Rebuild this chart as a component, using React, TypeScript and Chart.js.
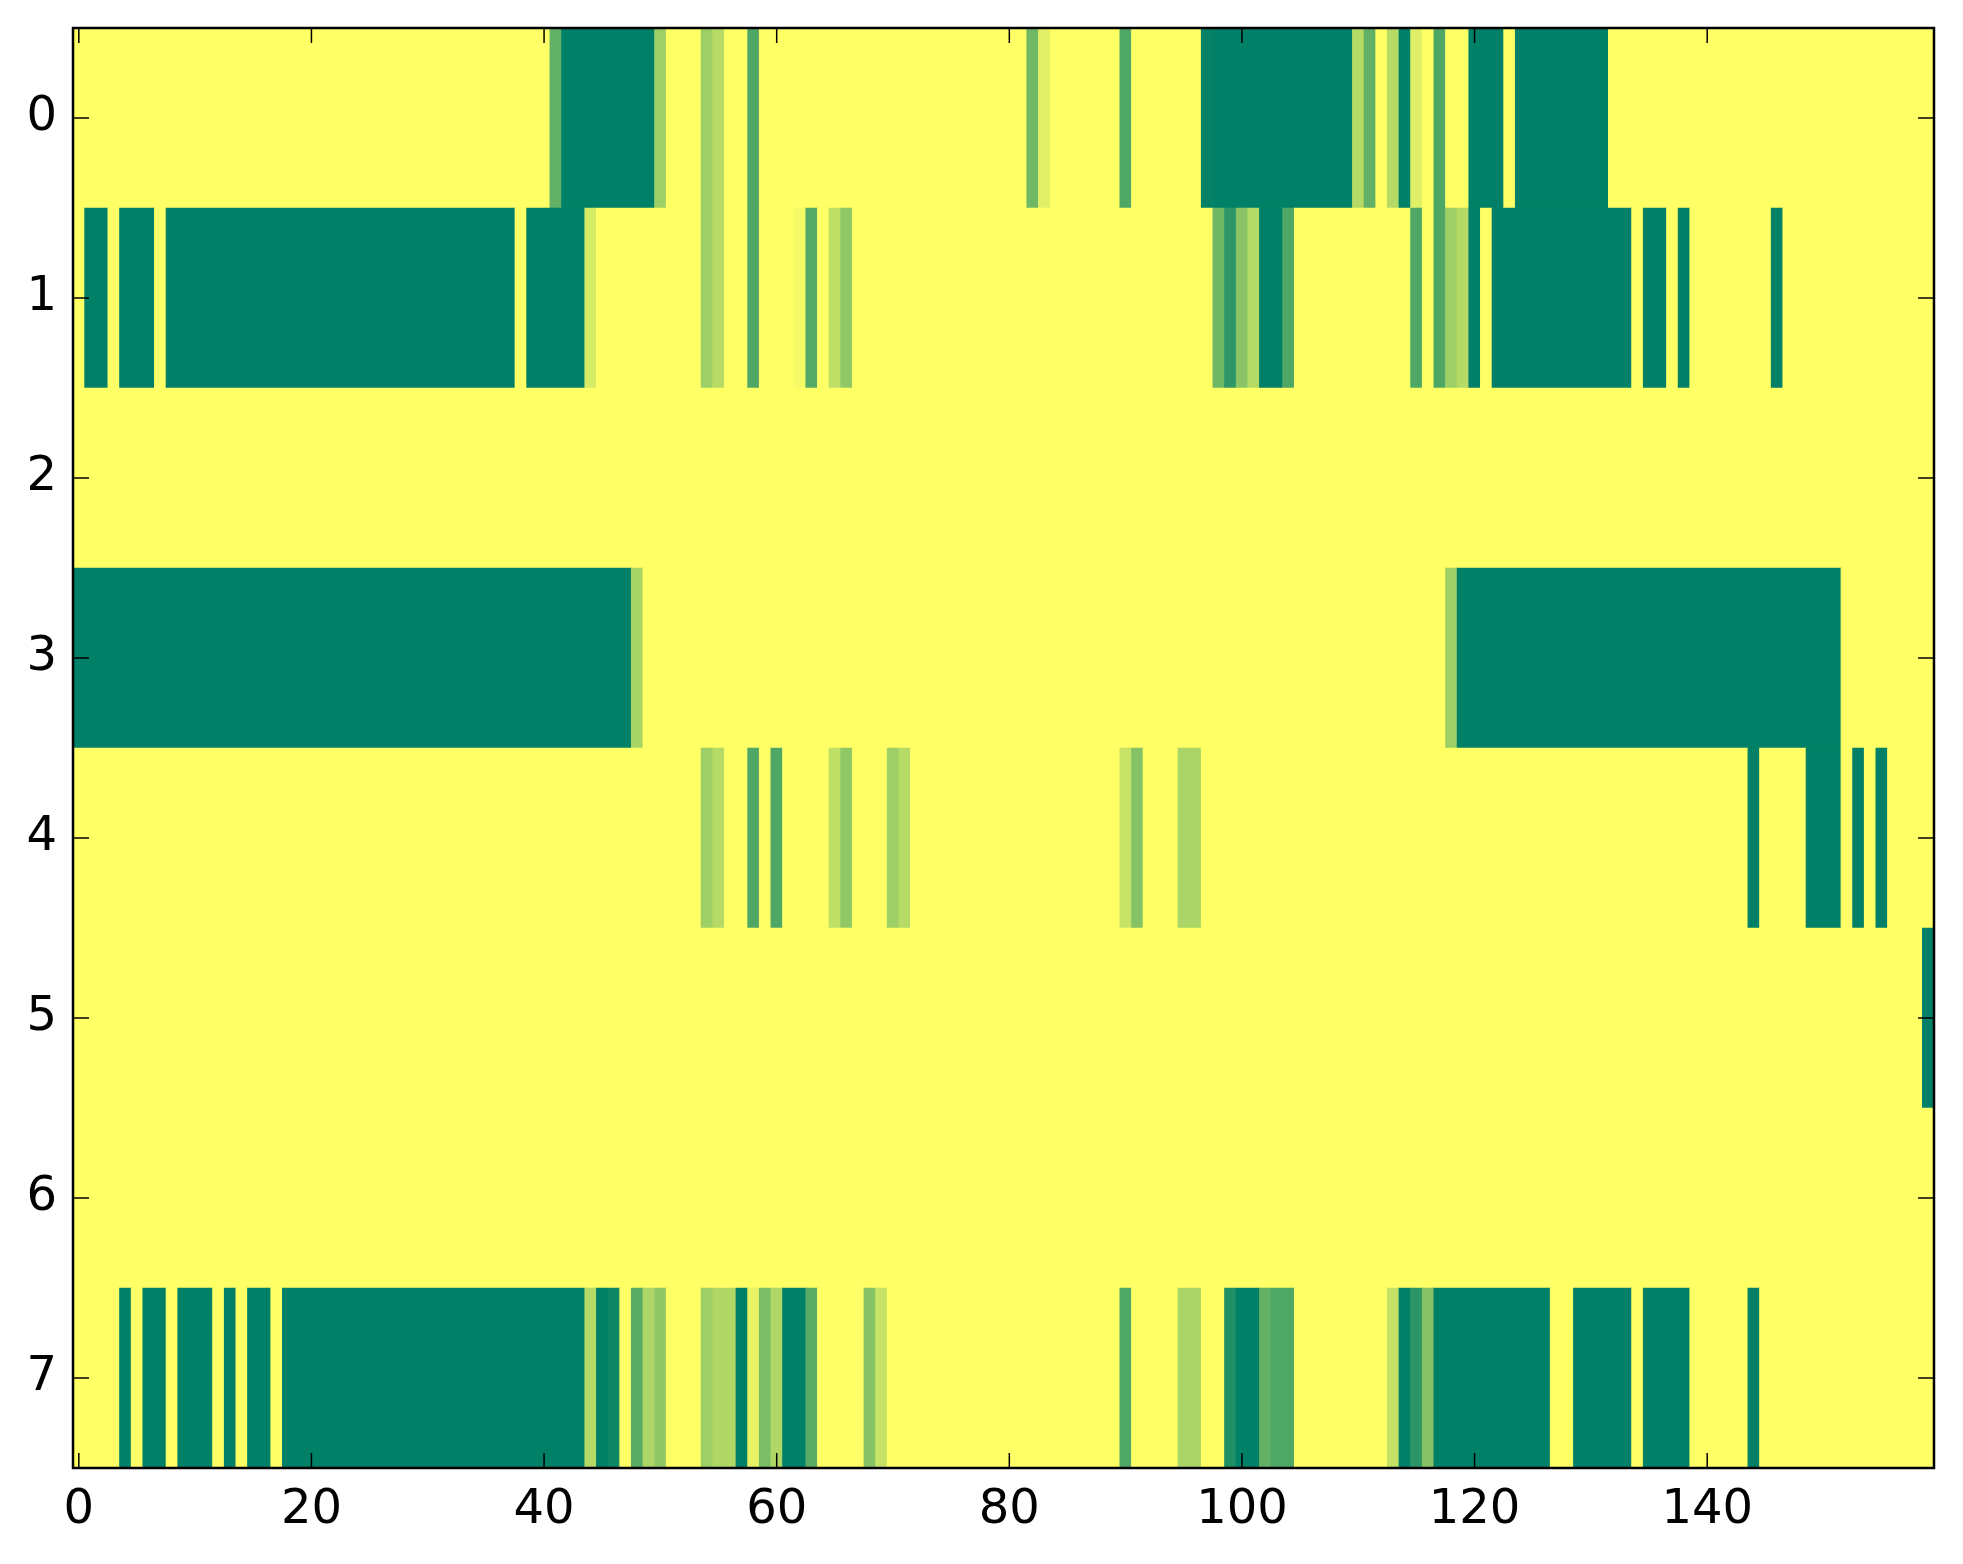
import React, { useEffect, useRef } from "react";
import { Chart, registerables } from "chart.js";

Chart.register(...registerables);

// Row indices (y tick labels) and x tick labels
const rowLabels = [0, 1, 2, 3, 4, 5, 6, 7];
const xTickValues = [0, 20, 40, 60, 80, 100, 120, 140];

// Cell values per row (0 = dark green, 1 = yellow), 160 columns each
const row0 = [
  1, 1, 1, 1, 1, 1, 1, 1, 1, 1,
  1, 1, 1, 1, 1, 1, 1, 1, 1, 1,
  1, 1, 1, 1, 1, 1, 1, 1, 1, 1,
  1, 1, 1, 1, 1, 1, 1, 1, 1, 1,
  1, 0.39, 0, 0, 0, 0, 0, 0, 0, 0,
  0.62, 1, 1, 1, 0.62, 0.72, 1, 1, 0.31, 1,
  1, 1, 1, 1, 1, 1, 1, 1, 1, 1,
  1, 1, 1, 1, 1, 1, 1, 1, 1, 1,
  1, 1, 0.44, 0.88, 1, 1, 1, 1, 1, 1,
  0.31, 1, 1, 1, 1, 1, 1, 0.02, 0, 0,
  0, 0, 0, 0, 0, 0, 0, 0, 0, 0,
  0.71, 0.39, 1, 0.71, 0, 0.88, 1, 0.31, 1, 1,
  0, 0, 0, 1, 0, 0, 0, 0, 0, 0,
  0, 0, 1, 1, 1, 1, 1, 1, 1, 1,
  1, 1, 1, 1, 1, 1, 1, 1, 1, 1,
  1, 1, 1, 1, 1, 1, 1, 1, 1, 1,
];

const row1 = [
  1, 0, 0, 1, 0, 0, 0, 1, 0, 0,
  0, 0, 0, 0, 0, 0, 0, 0, 0, 0,
  0, 0, 0, 0, 0, 0, 0, 0, 0, 0,
  0, 0, 0, 0, 0, 0, 0, 0, 1, 0,
  0, 0, 0, 0, 0.84, 1, 1, 1, 1, 1,
  1, 1, 1, 1, 0.62, 0.72, 1, 1, 0.31, 1,
  1, 1, 0.96, 0.33, 1, 0.75, 0.57, 1, 1, 1,
  1, 1, 1, 1, 1, 1, 1, 1, 1, 1,
  1, 1, 1, 1, 1, 1, 1, 1, 1, 1,
  1, 1, 1, 1, 1, 1, 1, 1, 0.44, 0.18,
  0.54, 0.71, 0, 0, 0.31, 1, 1, 1, 1, 1,
  1, 1, 1, 1, 1, 0.31, 1, 0.31, 0.62, 0.71,
  0, 1, 0, 0, 0, 0, 0, 0, 0, 0,
  0, 0, 0, 0, 1, 0, 0, 1, 0, 1,
  1, 1, 1, 1, 1, 1, 0, 1, 1, 1,
  1, 1, 1, 1, 1, 1, 1, 1, 1, 1,
];

const row2 = [
  1, 1, 1, 1, 1, 1, 1, 1, 1, 1,
  1, 1, 1, 1, 1, 1, 1, 1, 1, 1,
  1, 1, 1, 1, 1, 1, 1, 1, 1, 1,
  1, 1, 1, 1, 1, 1, 1, 1, 1, 1,
  1, 1, 1, 1, 1, 1, 1, 1, 1, 1,
  1, 1, 1, 1, 1, 1, 1, 1, 1, 1,
  1, 1, 1, 1, 1, 1, 1, 1, 1, 1,
  1, 1, 1, 1, 1, 1, 1, 1, 1, 1,
  1, 1, 1, 1, 1, 1, 1, 1, 1, 1,
  1, 1, 1, 1, 1, 1, 1, 1, 1, 1,
  1, 1, 1, 1, 1, 1, 1, 1, 1, 1,
  1, 1, 1, 1, 1, 1, 1, 1, 1, 1,
  1, 1, 1, 1, 1, 1, 1, 1, 1, 1,
  1, 1, 1, 1, 1, 1, 1, 1, 1, 1,
  1, 1, 1, 1, 1, 1, 1, 1, 1, 1,
  1, 1, 1, 1, 1, 1, 1, 1, 1, 1,
];

const row3 = [
  0, 0, 0, 0, 0, 0, 0, 0, 0, 0,
  0, 0, 0, 0, 0, 0, 0, 0, 0, 0,
  0, 0, 0, 0, 0, 0, 0, 0, 0, 0,
  0, 0, 0, 0, 0, 0, 0, 0, 0, 0,
  0, 0, 0, 0, 0, 0, 0, 0, 0.66, 1,
  1, 1, 1, 1, 1, 1, 1, 1, 1, 1,
  1, 1, 1, 1, 1, 1, 1, 1, 1, 1,
  1, 1, 1, 1, 1, 1, 1, 1, 1, 1,
  1, 1, 1, 1, 1, 1, 1, 1, 1, 1,
  1, 1, 1, 1, 1, 1, 1, 1, 1, 1,
  1, 1, 1, 1, 1, 1, 1, 1, 1, 1,
  1, 1, 1, 1, 1, 1, 1, 1, 0.62, 0,
  0, 0, 0, 0, 0, 0, 0, 0, 0, 0,
  0, 0, 0, 0, 0, 0, 0, 0, 0, 0,
  0, 0, 0, 0, 0, 0, 0, 0, 0, 0,
  0, 0, 1, 1, 1, 1, 1, 1, 1, 1,
];

const row4 = [
  1, 1, 1, 1, 1, 1, 1, 1, 1, 1,
  1, 1, 1, 1, 1, 1, 1, 1, 1, 1,
  1, 1, 1, 1, 1, 1, 1, 1, 1, 1,
  1, 1, 1, 1, 1, 1, 1, 1, 1, 1,
  1, 1, 1, 1, 1, 1, 1, 1, 1, 1,
  1, 1, 1, 1, 0.62, 0.71, 1, 1, 0.31, 1,
  0.31, 1, 1, 1, 1, 0.75, 0.57, 1, 1, 1,
  0.62, 0.71, 1, 1, 1, 1, 1, 1, 1, 1,
  1, 1, 1, 1, 1, 1, 1, 1, 1, 1,
  0.78, 0.52, 1, 1, 1, 0.67, 0.67, 1, 1, 1,
  1, 1, 1, 1, 1, 1, 1, 1, 1, 1,
  1, 1, 1, 1, 1, 1, 1, 1, 1, 1,
  1, 1, 1, 1, 1, 1, 1, 1, 1, 1,
  1, 1, 1, 1, 1, 1, 1, 1, 1, 1,
  1, 1, 1, 1, 0, 1, 1, 1, 1, 0,
  0, 0, 1, 0, 1, 0, 1, 1, 1, 1,
];

const row5 = [
  1, 1, 1, 1, 1, 1, 1, 1, 1, 1,
  1, 1, 1, 1, 1, 1, 1, 1, 1, 1,
  1, 1, 1, 1, 1, 1, 1, 1, 1, 1,
  1, 1, 1, 1, 1, 1, 1, 1, 1, 1,
  1, 1, 1, 1, 1, 1, 1, 1, 1, 1,
  1, 1, 1, 1, 1, 1, 1, 1, 1, 1,
  1, 1, 1, 1, 1, 1, 1, 1, 1, 1,
  1, 1, 1, 1, 1, 1, 1, 1, 1, 1,
  1, 1, 1, 1, 1, 1, 1, 1, 1, 1,
  1, 1, 1, 1, 1, 1, 1, 1, 1, 1,
  1, 1, 1, 1, 1, 1, 1, 1, 1, 1,
  1, 1, 1, 1, 1, 1, 1, 1, 1, 1,
  1, 1, 1, 1, 1, 1, 1, 1, 1, 1,
  1, 1, 1, 1, 1, 1, 1, 1, 1, 1,
  1, 1, 1, 1, 1, 1, 1, 1, 1, 1,
  1, 1, 1, 1, 1, 1, 1, 1, 1, 0,
];

const row6 = [
  1, 1, 1, 1, 1, 1, 1, 1, 1, 1,
  1, 1, 1, 1, 1, 1, 1, 1, 1, 1,
  1, 1, 1, 1, 1, 1, 1, 1, 1, 1,
  1, 1, 1, 1, 1, 1, 1, 1, 1, 1,
  1, 1, 1, 1, 1, 1, 1, 1, 1, 1,
  1, 1, 1, 1, 1, 1, 1, 1, 1, 1,
  1, 1, 1, 1, 1, 1, 1, 1, 1, 1,
  1, 1, 1, 1, 1, 1, 1, 1, 1, 1,
  1, 1, 1, 1, 1, 1, 1, 1, 1, 1,
  1, 1, 1, 1, 1, 1, 1, 1, 1, 1,
  1, 1, 1, 1, 1, 1, 1, 1, 1, 1,
  1, 1, 1, 1, 1, 1, 1, 1, 1, 1,
  1, 1, 1, 1, 1, 1, 1, 1, 1, 1,
  1, 1, 1, 1, 1, 1, 1, 1, 1, 1,
  1, 1, 1, 1, 1, 1, 1, 1, 1, 1,
  1, 1, 1, 1, 1, 1, 1, 1, 1, 1,
];

const row7 = [
  1, 1, 1, 1, 0, 1, 0, 0, 1, 0,
  0, 0, 1, 0, 1, 0, 0, 1, 0, 0,
  0, 0, 0, 0, 0, 0, 0, 0, 0, 0,
  0, 0, 0, 0, 0, 0, 0, 0, 0, 0,
  0, 0, 0, 0, 0.71, 0, 0.05, 1, 0.35, 0.68,
  0.57, 1, 1, 1, 0.62, 0.69, 0.69, 0, 0.91, 0.48,
  0.69, 0, 0, 0.35, 1, 1, 1, 1, 0.53, 0.78,
  1, 1, 1, 1, 1, 1, 1, 1, 1, 1,
  1, 1, 1, 1, 1, 1, 1, 1, 1, 1,
  0.31, 1, 1, 1, 1, 0.67, 0.67, 1, 1, 0.12,
  0, 0, 0.39, 0.31, 0.31, 1, 1, 1, 1, 1,
  1, 1, 1, 0.77, 0, 0.18, 0.53, 0, 0, 0,
  0, 0, 0, 0, 0, 0, 0, 1, 1, 0,
  0, 0, 0, 0, 1, 0, 0, 0, 0, 1,
  1, 1, 1, 1, 0, 1, 1, 1, 1, 1,
  1, 1, 1, 1, 1, 1, 1, 1, 1, 1,
];

const rows = [row0, row1, row2, row3, row4, row5, row6, row7];

// matplotlib "summer" colormap
function summer(v: number): string {
  const r = Math.round(255 * v);
  const g = Math.round(255 * (0.5 + 0.5 * v));
  return `rgb(${r},${g},102)`;
}

function buildBars() {
  const bars: { x: [number, number]; y: number }[] = [];
  const colors: string[] = [];
  rows.forEach((row, r) => {
    let start = 0;
    for (let c = 1; c <= row.length; c++) {
      if (c === row.length || row[c] !== row[start]) {
        bars.push({ x: [start - 0.5, c - 0.5], y: rowLabels[r] });
        colors.push(summer(row[start]));
        start = c;
      }
    }
  });
  return { bars, colors };
}

const framePlugin = {
  id: "frameTicks",
  afterDatasetsDraw(chart: any) {
    const { ctx, chartArea: a, scales } = chart;
    ctx.save();
    ctx.strokeStyle = "#000";
    ctx.lineWidth = 1.5;
    const line = (x1: number, y1: number, x2: number, y2: number) => {
      ctx.beginPath();
      ctx.moveTo(x1, y1);
      ctx.lineTo(x2, y2);
      ctx.stroke();
    };
    xTickValues.forEach((v) => {
      const px = scales.x.getPixelForValue(v);
      line(px, a.bottom, px, a.bottom - 15);
      line(px, a.top, px, a.top + 15);
    });
    rowLabels.forEach((v) => {
      const py = scales.y.getPixelForValue(v);
      line(a.left, py, a.left + 16, py);
      line(a.right, py, a.right - 16, py);
    });
    ctx.lineWidth = 2.5;
    ctx.strokeRect(a.left, a.top, a.right - a.left, a.bottom - a.top);
    ctx.restore();
  },
};

export default function App() {
  const canvasRef = useRef<HTMLCanvasElement | null>(null);

  useEffect(() => {
    const canvas = canvasRef.current;
    if (!canvas) return;
    const { bars, colors } = buildBars();
    const font = { family: "'DejaVu Sans', sans-serif", size: 48 };
    const chart = new Chart(canvas, {
      type: "bar",
      data: {
        datasets: [
          {
            data: bars as any,
            backgroundColor: colors,
            borderWidth: 0,
            barPercentage: 1,
            categoryPercentage: 1,
            grouped: false,
          } as any,
        ],
      },
      options: {
        indexAxis: "y",
        responsive: false,
        animation: false,
        devicePixelRatio: 1,
        layout: { padding: { top: 28, right: 29, left: 0, bottom: 0 } },
        plugins: {
          legend: { display: false },
          tooltip: { enabled: false },
        },
        scales: {
          x: {
            type: "linear",
            min: -0.5,
            max: 159.5,
            offset: false,
            afterBuildTicks: (s: any) => {
              s.ticks = xTickValues.map((v) => ({ value: v }));
            },
            afterFit: (s: any) => {
              s.height = 96;
              s.paddingLeft = 0;
              s.paddingRight = 0;
            },
            ticks: {
              color: "#000",
              font,
              padding: 14,
              maxRotation: 0,
              autoSkip: false,
            },
            grid: { display: false, drawTicks: false, offset: false },
            border: { display: false },
          },
          y: {
            type: "linear",
            reverse: true,
            min: -0.5,
            max: 7.5,
            offset: false,
            afterBuildTicks: (s: any) => {
              s.ticks = rowLabels.map((v) => ({ value: v }));
            },
            afterFit: (s: any) => {
              s.width = 73;
              s.paddingTop = 0;
              s.paddingBottom = 0;
            },
            ticks: {
              color: "#000",
              font,
              padding: 16,
              autoSkip: false,
            },
            grid: { display: false, drawTicks: false, offset: false },
            border: { display: false },
          },
        },
      } as any,
      plugins: [framePlugin],
    });
    return () => chart.destroy();
  }, []);

  return (
    <div style={{ position: "absolute", left: 0, top: 0, width: 1963, height: 1564, background: "#fff" }}>
      <canvas ref={canvasRef} width={1963} height={1564} style={{ width: 1963, height: 1564 }} />
    </div>
  );
}
